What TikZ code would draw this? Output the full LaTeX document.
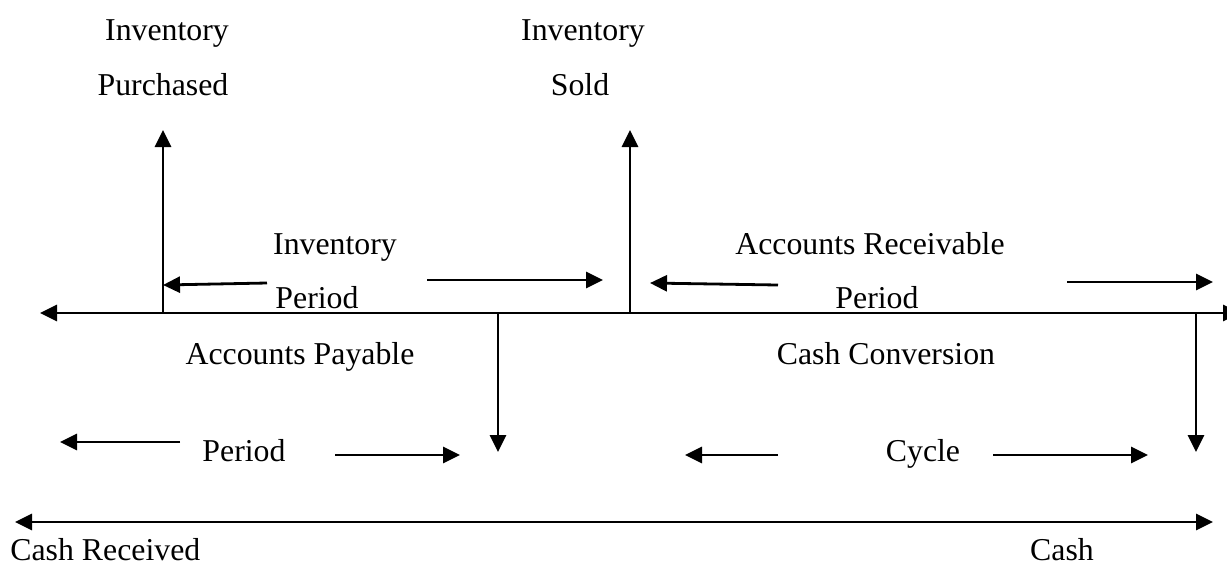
\documentclass[tikz,border=0pt]{standalone}
\usepackage{fontspec}
\setmainfont{Liberation Serif}
\usetikzlibrary{arrows.meta}
\begin{document}
\begin{tikzpicture}[x=0.5pt,y=-0.5pt,
  lbl/.style={font=\fontsize{15.9}{19}\selectfont, inner sep=0pt, anchor=base},
  ln/.style={line width=1.4pt},
  arr/.style={ln, -{Triangle[length=8.5pt,width=8pt]}},
  darr/.style={ln, {Triangle[length=8.5pt,width=8pt]}-{Triangle[length=8.5pt,width=8pt]}}]
\useasboundingbox (0,0) rectangle (1227,564);
\clip (0,0) rectangle (1227,564);
% texts
\node[lbl] (ip1) at (167,40) {Inventory};
\node[lbl] (ip2) at (163,95) {Purchased};
\node[lbl] (is1) at (583,40) {Inventory};
\node[lbl] (is2) at (580,95) {Sold};
\node[lbl] (iv1) at (335,254) {Inventory};
\node[lbl] (iv2) at (317,308) {Period};
\node[lbl] (ar1) at (870,254) {Accounts Receivable};
\node[lbl] (ar2) at (877,308) {Period};
\node[lbl] (ap1) at (300,364) {Accounts Payable};
\node[lbl] (ap2) at (244,461) {Period};
\node[lbl] (cc1) at (886,364) {Cash Conversion};
\node[lbl] (cc2) at (923,461) {Cycle};
\node[lbl, anchor=base west] (cr) at (10,560) {Cash Received};
\node[lbl] (cs) at (1062,560) {Cash};
% coordinates
\coordinate (mL) at (40,313);
\coordinate (mR) at (1240,313);
\coordinate (pA) at (163,313);
\coordinate (pAt) at (163,130);
\coordinate (pB) at (630,313);
\coordinate (pBt) at (630,130);
\coordinate (pC) at (498,313);
\coordinate (pCt) at (498,452);
\coordinate (pD) at (1196,313);
\coordinate (pDt) at (1196,452);
\coordinate (bL) at (15,522);
\coordinate (bR) at (1213,522);
\coordinate (a1s) at (267,283); \coordinate (a1e) at (163,285);
\coordinate (a2s) at (427,280); \coordinate (a2e) at (603,280);
\coordinate (a3s) at (778,285); \coordinate (a3e) at (650,283);
\coordinate (a4s) at (1067,282); \coordinate (a4e) at (1213,282);
\coordinate (a5s) at (180,442); \coordinate (a5e) at (60,442);
\coordinate (a6s) at (335,455); \coordinate (a6e) at (460,455);
\coordinate (a7s) at (778,455); \coordinate (a7e) at (685,455);
\coordinate (a8s) at (993,455); \coordinate (a8e) at (1148,455);
% lines
\draw[darr] (mL) -- (mR);
\draw[arr] (pA) -- (pAt);
\draw[arr] (pB) -- (pBt);
\draw[arr] (pC) -- (pCt);
\draw[arr] (pD) -- (pDt);
\draw[darr] (bL) -- (bR);
\draw[arr] (a1s) -- (a1e);
\draw[arr] (a2s) -- (a2e);
\draw[arr] (a3s) -- (a3e);
\draw[arr] (a4s) -- (a4e);
\draw[arr] (a5s) -- (a5e);
\draw[arr] (a6s) -- (a6e);
\draw[arr] (a7s) -- (a7e);
\draw[arr] (a8s) -- (a8e);
\end{tikzpicture}
\end{document}
